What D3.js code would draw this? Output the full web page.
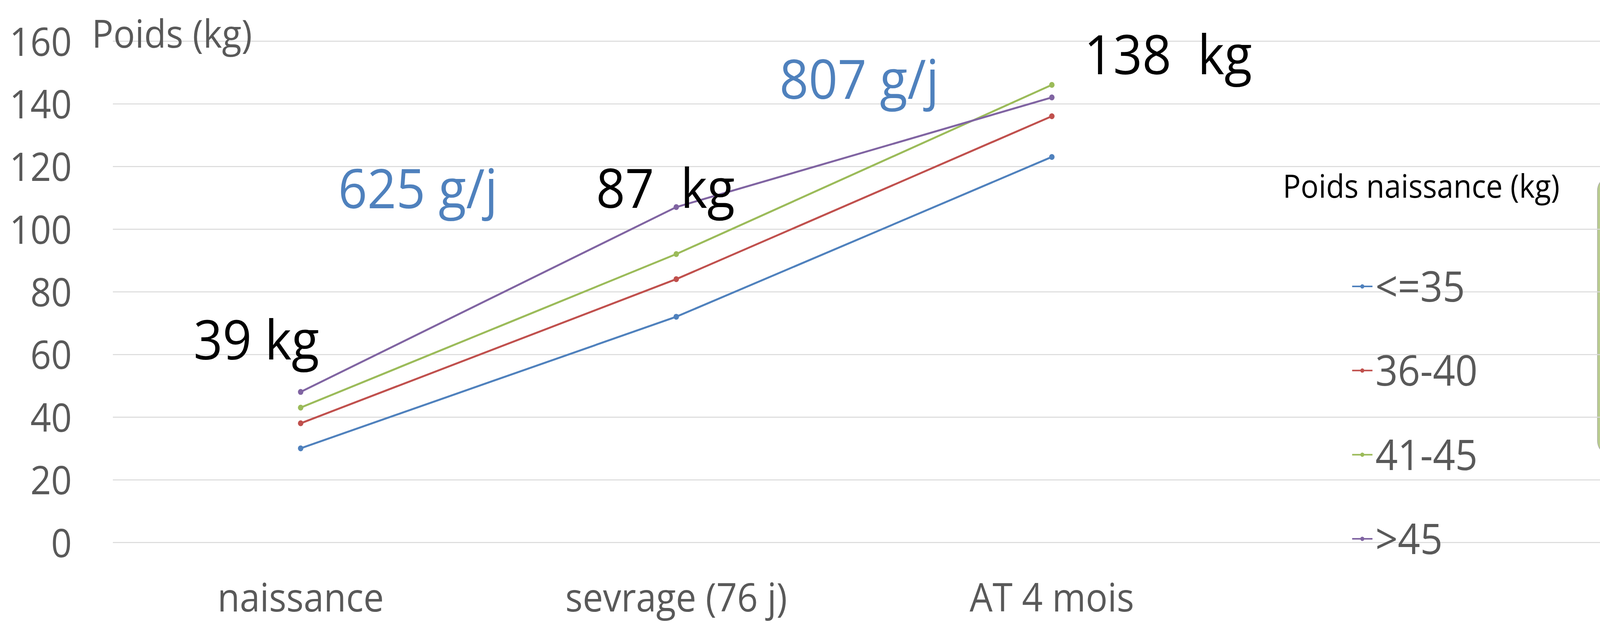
<!DOCTYPE html>
<html>
<head>
<meta charset="utf-8">
<script src="https://cdn.jsdelivr.net/npm/d3@7"></script>
<style>
  html, body { margin: 0; padding: 0; background: #fff; overflow: hidden; }
  svg { display: block; width: 100vw; height: 100vh; font-family: "Open Sans", "Noto Sans", sans-serif; }
  .grid line { stroke: #d9d9d9; stroke-width: 2.5; }
  .grid text, .xaxis text { fill: #595959; }
</style>
</head>
<body>
<svg id="chart"></svg>
<script>
// data
const categories = ["naissance", "sevrage (76 j)", "AT 4 mois"];
const seriesNames = ["<=35", "36-40", "41-45", ">45"];
const seriesColors = ["#4f81bd", "#c0504d", "#9bbb59", "#8064a2"];
const valuesLe35 = [30, 72, 123];
const values36to40 = [38, 84, 136];
const values41to45 = [43, 92, 146];
const valuesGt45 = [48, 107, 142];
const yTicks = [0, 20, 40, 60, 80, 100, 120, 140, 160];

// mean weight at each stage, and daily gains between stages
const meanLabels = ["39 kg", "87  kg", "138  kg"];
const gainLabels = ["625 g/j", "807 g/j"];

// drawn in the reference's 4409x1597 space, stretched to whatever the window is
const width = 4409, height = 1597;
const plotLeft = 311, plotRight = 3416, plotTop = 105, plotBottom = 1388;

const svg = d3.select("#chart")
  .attr("viewBox", [0, 0, width, height])
  .attr("preserveAspectRatio", "none");

const x = d3.scaleBand()
  .domain(categories)
  .range([plotLeft, plotRight]);
const cx = (c) => x(c) + x.bandwidth() / 2;

const y = d3.scaleLinear()
  .domain([0, 160])
  .range([plotBottom, plotTop]);

// light green box poking in on the right edge
const defs = svg.append("defs");
const grad = defs.append("linearGradient")
  .attr("id", "boxGrad")
  .attr("x1", 0).attr("x2", 1).attr("y1", 0).attr("y2", 0);
grad.append("stop").attr("offset", "0%").attr("stop-color", "#b9cc8e");
grad.append("stop").attr("offset", "100%").attr("stop-color", "#d7e4bd");

svg.append("rect")
  .attr("x", 4402)
  .attr("y", 452)
  .attr("width", 200)
  .attr("height", 712)
  .attr("rx", 36)
  .attr("fill", "url(#boxGrad)")
  .attr("stroke", "#a6a6a6")
  .attr("stroke-width", 1.5);

// gridlines + y tick labels
const grid = svg.append("g")
  .attr("class", "grid")
  .attr("transform", `translate(${plotLeft},0)`)
  .call(
    d3.axisLeft(y)
      .tickValues(yTicks)
      .tickSize(-(width - plotLeft))
      .tickPadding(113)
  )
  .attr("font-family", null)
  .attr("font-size", null);
grid.select(".domain").remove();
grid.selectAll("text")
  .attr("font-size", 100)
  .attr("dy", "0.37em");

// x axis labels (no line)
const xaxis = svg.append("g")
  .attr("class", "xaxis")
  .attr("transform", `translate(0,${plotBottom})`)
  .call(d3.axisBottom(x).tickSize(0).tickPadding(106))
  .attr("font-family", null)
  .attr("font-size", null);
xaxis.select(".domain").remove();
xaxis.selectAll("text")
  .attr("font-size", 100);

// axis title
svg.append("text")
  .attr("x", 253)
  .attr("y", 122)
  .attr("font-size", 99)
  .attr("fill", "#595959")
  .text("Poids (kg)");

// series
const allValues = [valuesLe35, values36to40, values41to45, valuesGt45];
const series = seriesNames.map((name, i) => ({
  name,
  color: seriesColors[i],
  points: categories.map((c, j) => ({ cat: c, value: allValues[i][j] }))
}));

const line = d3.line()
  .x((d) => cx(d.cat))
  .y((d) => y(d.value));

const lines = svg.append("g")
  .selectAll("g.series")
  .data(series)
  .join("g")
  .attr("class", "series");

lines.append("path")
  .attr("fill", "none")
  .attr("stroke", (d) => d.color)
  .attr("stroke-width", 5)
  .attr("d", (d) => line(d.points));

lines.each(function (s) {
  d3.select(this)
    .selectAll("circle")
    .data(s.points)
    .join("circle")
    .attr("cx", (p) => cx(p.cat))
    .attr("cy", (p) => y(p.value))
    .attr("r", 7.5)
    .attr("fill", s.color);
});

// annotations: mean weights (black) and gains (blue)
const meanPos = [
  { dx: 51, v: 58.4, anchor: "end" },
  { dx: -221, v: 106.7, anchor: "start" },
  { dx: 89, v: 149.4, anchor: "start" }
];
svg.append("g")
  .selectAll("text")
  .data(meanLabels)
  .join("text")
  .attr("x", (d, i) => cx(categories[i]) + meanPos[i].dx)
  .attr("y", (d, i) => y(meanPos[i].v))
  .attr("text-anchor", (d, i) => meanPos[i].anchor)
  .attr("font-size", 140)
  .attr("fill", "#000")
  .style("white-space", "pre")
  .text((d) => d);

const gainPos = [
  { frac: 0.1, v: 106.6 },
  { frac: 0.275, v: 141.5 }
];
svg.append("g")
  .selectAll("text")
  .data(gainLabels)
  .join("text")
  .attr("x", (d, i) => cx(categories[i]) + gainPos[i].frac * x.bandwidth())
  .attr("y", (d, i) => y(gainPos[i].v))
  .attr("font-size", 140)
  .attr("fill", "#4f81bd")
  .text((d) => d);

// legend
const legend = svg.append("g")
  .attr("transform", "translate(3726,0)");

legend.append("text")
  .attr("x", -191)
  .attr("y", 506)
  .attr("font-size", 82)
  .attr("fill", "#000")
  .text("Poids naissance (kg)");

const legendY = d3.scalePoint()
  .domain(seriesNames)
  .range([733, 1379]);

const items = legend.selectAll("g.item")
  .data(series)
  .join("g")
  .attr("class", "item")
  .attr("transform", (d) => `translate(0,${legendY(d.name)})`);

items.append("line")
  .attr("x1", 0)
  .attr("x2", 56)
  .attr("stroke", (d) => d.color)
  .attr("stroke-width", 4);

items.append("circle")
  .attr("cx", 28)
  .attr("r", 5.5)
  .attr("fill", (d) => d.color);

items.append("text")
  .attr("x", 64)
  .attr("dy", "0.36em")
  .attr("font-size", 108)
  .attr("fill", "#595959")
  .text((d) => d.name);
</script>
</body>
</html>
